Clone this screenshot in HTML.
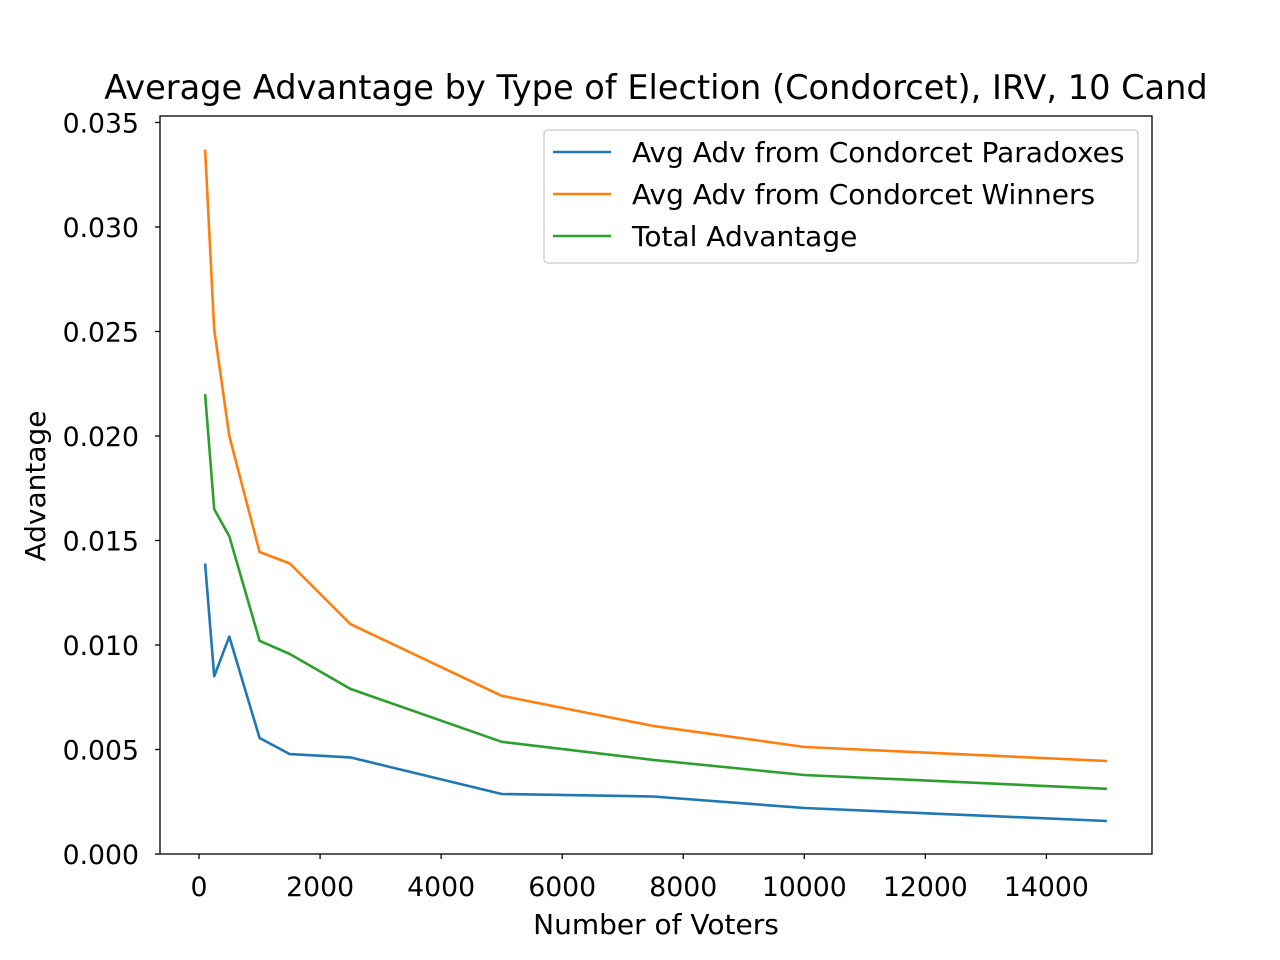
<!DOCTYPE html>
<html><head><meta charset="utf-8"><style>
html,body{margin:0;padding:0;background:#fff;}
svg{display:block;font-family:"DejaVu Sans","Liberation Sans",sans-serif;}
</style></head><body>
<svg id="chart" width="1280" height="960"></svg>
<script>
const xValues=[100,250,500,1000,1500,2500,5000,7500,10000,15000];
const paradoxValues=[0.0139,0.0085,0.0104,0.00555,0.00478,0.00462,0.00287,0.00275,0.0022,0.00158];
const winnerValues=[0.0337,0.0251,0.0200,0.01445,0.0139,0.0110,0.00757,0.00613,0.00512,0.00445];
const totalValues=[0.0220,0.0165,0.0152,0.0102,0.00957,0.0079,0.00537,0.0045,0.00378,0.00312];
const xTicks=[0,2000,4000,6000,8000,10000,12000,14000];
const yTicks=[0,0.005,0.010,0.015,0.020,0.025,0.030,0.035];
const seriesNames=["Avg Adv from Condorcet Paradoxes","Avg Adv from Condorcet Winners","Total Advantage"];

const L=160,R=1152,T=116,B=854;
const xmin=-645,xmax=15745,ymin=0,ymax=0.03531;
const sx=v=>L+(v-xmin)/(xmax-xmin)*(R-L);
const sy=v=>B-(v-ymin)/(ymax-ymin)*(B-T);
const svg=document.getElementById('chart');
const NS='http://www.w3.org/2000/svg';
function mk(tag,attrs,parent){const e=document.createElementNS(NS,tag);for(const k in attrs)e.setAttribute(k,attrs[k]);(parent||svg).appendChild(e);return e;}

const title=mk('text',{x:656,y:99,'text-anchor':'middle','font-size':'33.6',fill:'#000'});
title.textContent='Average Advantage by Type of Election (Condorcet), IRV, 10 Cand';



const colors=['#1f77b4','#ff7f0e','#2ca02c'];
const allSeries=[paradoxValues,winnerValues,totalValues];
const lineNames=['line-paradoxes','line-winners','line-total'];
allSeries.forEach((vals,i)=>{
  const d=vals.map((v,j)=>(j?'L':'M')+sx(xValues[j]).toFixed(1)+','+sy(v).toFixed(1)).join(' ');
  const p=mk('path',{d:d,fill:'none',stroke:colors[i],'stroke-width':2.6,'stroke-linejoin':'round'});
  
  
});

const frame=mk('rect',{x:L,y:T,width:R-L,height:B-T,fill:'none',stroke:'#000','stroke-width':1.3});



xTicks.forEach(t=>{
  const x=sx(t);
  mk('line',{x1:x,x2:x,y1:B,y2:B+5,stroke:'#000','stroke-width':1.3});
  const tx=mk('text',{x:x,y:896,'text-anchor':'middle','font-size':'26.7',fill:'#000'});
  tx.textContent=String(t);
  
  
});
yTicks.forEach(t=>{
  const y=sy(t);
  mk('line',{x1:L-5,x2:L,y1:y,y2:y,stroke:'#000','stroke-width':1.3});
  const tx=mk('text',{x:139,y:y+10,'text-anchor':'end','font-size':'26.7',fill:'#000'});
  tx.textContent=t.toFixed(3);
  
  
});

const xl=mk('text',{x:656,y:934,'text-anchor':'middle','font-size':'28',fill:'#000'});
xl.textContent='Number of Voters';


const yl=mk('text',{x:0,y:0,'text-anchor':'middle','font-size':'28',fill:'#000',transform:'translate(45,486) rotate(-90)'});
yl.textContent='Advantage';



const lg=mk('g',{});


mk('rect',{x:544,y:130,width:594,height:133,rx:4,fill:'#fff',stroke:'#ccc','stroke-width':1.3},lg);
seriesNames.forEach((n,i)=>{
  const y=152+i*42;
  mk('line',{x1:553,x2:611,y1:y,y2:y,stroke:colors[i],'stroke-width':2.6},lg);
  const tx=mk('text',{x:632,y:y+10,'font-size':'28',fill:'#000'},lg);
  tx.textContent=n;
  
  
});
</script>
</body></html>
